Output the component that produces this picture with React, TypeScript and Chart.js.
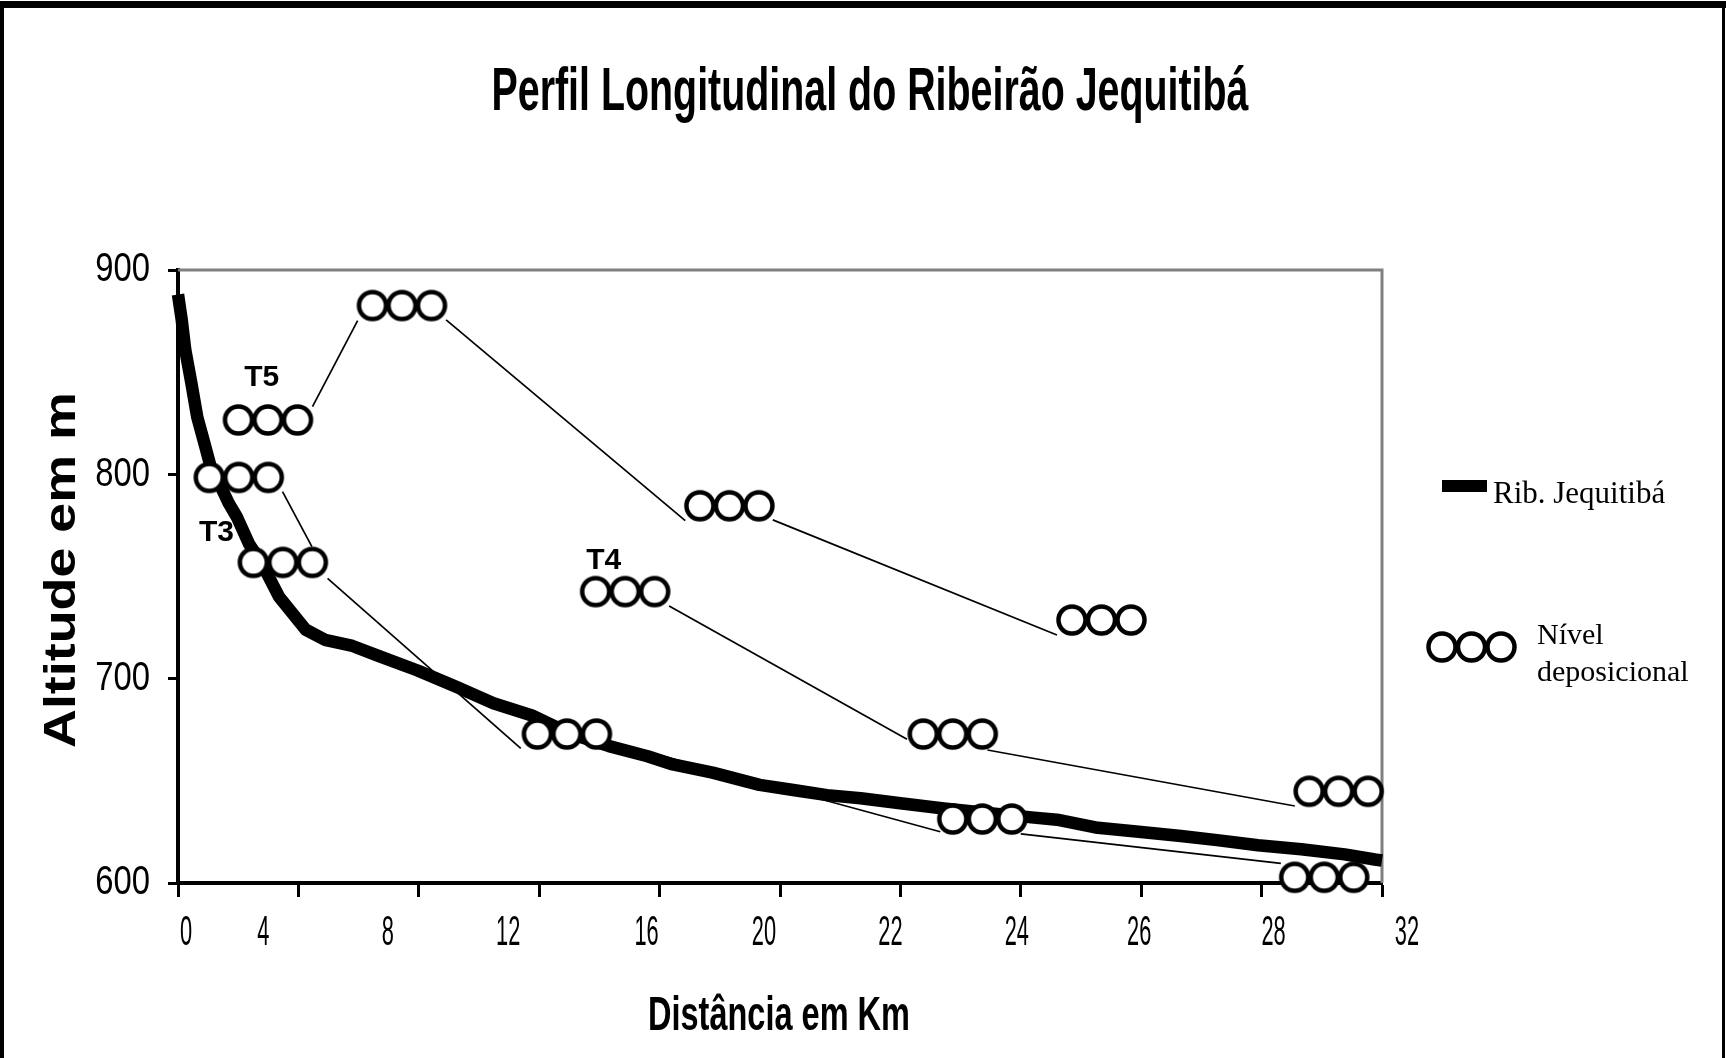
import React, { useEffect, useRef } from 'react';
import { Chart, registerables } from 'chart.js';

Chart.register(...registerables);

// ---------- data ----------
const TITLE = 'Perfil Longitudinal do Ribeirão Jequitibá';
const X_TITLE = 'Distância em Km';
const Y_TITLE = 'Altitude em m';

// x axis: 11 evenly spaced tick positions (index 0..10) carrying these labels
const X_TICK_LABELS = ['0', '4', '8', '12', '16', '20', '22', '24', '26', '28', '32'];
const Y_TICK_VALUES = [600, 700, 800, 900];

// river profile (x in axis-tick units, y altitude m)
const RIVER_X = [0.0, 0.03, 0.06, 0.11, 0.16, 0.22, 0.27, 0.34, 0.42, 0.49, 0.59, 0.7, 0.84, 1.06, 1.22, 1.45, 1.67, 1.99, 2.31, 2.62, 2.94, 3.26, 3.58, 3.9, 4.11, 4.44, 4.83, 5.11, 5.39, 5.67, 6.0, 6.36, 7.11, 7.3, 7.64, 8.0, 8.33, 8.63, 8.97, 9.33, 9.69, 9.94, 10.0];
const RIVER_Y = [888, 876, 861, 845, 828, 815, 804, 796, 786, 779, 766, 756, 740, 724, 719, 716, 711, 704, 696, 688, 682, 673, 667, 662, 658, 654, 648, 645.5, 643, 641.5, 639, 636.5, 632, 631, 627, 625, 623, 621, 618.5, 616.5, 614, 611.5, 611];

// depositional levels (centre of each three-circle group)
const LEVEL_X = [0.747, 1.86, 0.505, 0.871, 3.23, 3.714, 4.58, 7.67, 6.435, 6.68, 9.64, 9.52];
const LEVEL_Y = [826.6, 882.6, 798.5, 756.9, 672.9, 742.6, 784.6, 728.7, 672.9, 631.3, 644.9, 602.8];

// thin connecting lines between levels
const LINK_X1 = [1.117, 2.227, 4.94, 0.868, 1.242, 4.079, 6.723, 3.569, 7.0];
const LINK_Y1 = [833.1, 875.6, 777.7, 791.5, 749.1, 735.6, 665.1, 669.5, 624.0];
const LINK_X2 = [1.492, 4.213, 7.3, 1.112, 2.847, 6.055, 9.276, 6.331, 9.16];
const LINK_Y2 = [875.2, 777.3, 721.4, 764.6, 665.9, 670.3, 637.7, 625.1, 609.6];

// terrace labels
const TERRACE_NAMES = ['T5', 'T3', 'T4'];
const TERRACE_X = [0.695, 0.32, 3.536];
const TERRACE_Y = [847.4, 771.6, 757.6];

const LEGEND_RIVER = 'Rib. Jequitibá';
const LEGEND_LEVEL = ['Nível', 'deposicional'];

// ---------- styling ----------
const W = 1726;
const H = 1058;
const SANS = '"Liberation Sans", Arial, sans-serif';
const SERIF = '"Liberation Serif", "Times New Roman", serif';
const X_LABEL_NUDGE = [8, -35, -31, -31, -13, -16, -10, -4, -2, 12, 25];

function makeTriple(): HTMLCanvasElement {
  const r = 13.5, lw = 4.5, gap = 29.5;
  const c = document.createElement('canvas');
  const w = Math.ceil(2 * gap + 2 * r + lw + 4);
  const h = Math.ceil(2 * r + lw + 4);
  c.width = w;
  c.height = h;
  const ctx = c.getContext('2d') as CanvasRenderingContext2D;
  ctx.lineWidth = lw;
  ctx.strokeStyle = '#000';
  ctx.fillStyle = '#fff';
  for (let i = 0; i < 3; i++) {
    ctx.beginPath();
    ctx.arc(w / 2 + (i - 1) * gap, h / 2, r, 0, Math.PI * 2);
    ctx.fill();
    ctx.stroke();
  }
  return c;
}

function squeezeText(
  ctx: CanvasRenderingContext2D,
  text: string,
  x: number,
  y: number,
  font: string,
  sx: number,
  align: CanvasTextAlign,
  baseline: CanvasTextBaseline = 'alphabetic'
) {
  ctx.save();
  ctx.font = font;
  ctx.textAlign = align;
  ctx.textBaseline = baseline;
  ctx.translate(x, y);
  ctx.scale(sx, 1);
  ctx.fillText(text, 0, 0);
  ctx.restore();
}

function fitText(
  ctx: CanvasRenderingContext2D,
  text: string,
  x: number,
  y: number,
  font: string,
  width: number,
  align: CanvasTextAlign
) {
  ctx.save();
  ctx.font = font;
  const w = ctx.measureText(text).width;
  ctx.restore();
  squeezeText(ctx, text, x, y, font, width / w, align);
}

export default function App() {
  const ref = useRef<HTMLCanvasElement | null>(null);

  useEffect(() => {
    const canvas = ref.current;
    if (!canvas) return;
    const glyph = makeTriple();

    const decor = {
      id: 'decor',
      beforeDraw(chart: any) {
        const ctx = chart.ctx as CanvasRenderingContext2D;
        ctx.save();
        ctx.fillStyle = '#fff';
        ctx.fillRect(0, 0, W, H);
        ctx.fillStyle = '#000';
        ctx.fillRect(0, 1, W, 7);
        ctx.fillRect(0, 1, 4, H);
        ctx.fillRect(W - 4, 1, 3, H);
        ctx.restore();
      },
      beforeDatasetsDraw(chart: any) {
        const ctx = chart.ctx as CanvasRenderingContext2D;
        const a = chart.chartArea;
        ctx.save();
        ctx.strokeStyle = '#808080';
        ctx.lineWidth = 3;
        ctx.beginPath();
        ctx.moveTo(a.left, a.top);
        ctx.lineTo(a.right, a.top);
        ctx.lineTo(a.right, a.bottom);
        ctx.stroke();
        ctx.restore();
      },
      afterDraw(chart: any) {
        const ctx = chart.ctx as CanvasRenderingContext2D;
        const xs = chart.scales.x;
        const ys = chart.scales.y;
        ctx.save();
        ctx.fillStyle = '#000';

        // title
        fitText(ctx, TITLE, 870, 110, `bold 62px ${SANS}`, 757, 'center');

        // x tick labels
        X_TICK_LABELS.forEach((t, i) => {
          squeezeText(ctx, t, xs.getPixelForValue(i) + X_LABEL_NUDGE[i], 945, `42px ${SANS}`, 0.52, 'center');
        });
        // y tick labels
        Y_TICK_VALUES.forEach((v) => {
          squeezeText(ctx, String(v), 150, ys.getPixelForValue(v), `41px ${SANS}`, 0.8, 'right', 'middle');
        });

        // axis titles
        fitText(ctx, X_TITLE, 779, 1030, `bold 49px ${SANS}`, 262, 'center');
        ctx.save();
        ctx.translate(75, 570);
        ctx.rotate(-Math.PI / 2);
        fitText(ctx, Y_TITLE, 0, 0, `bold 44px ${SANS}`, 356, 'center');
        ctx.restore();

        // terrace labels
        TERRACE_NAMES.forEach((t, i) => {
          ctx.font = `bold 30px ${SANS}`;
          ctx.textAlign = 'center';
          ctx.textBaseline = 'middle';
          ctx.fillText(t, xs.getPixelForValue(TERRACE_X[i]), ys.getPixelForValue(TERRACE_Y[i]));
        });

        // legend
        ctx.fillRect(1442, 480, 45, 12);
        ctx.font = `31px ${SERIF}`;
        ctx.textAlign = 'left';
        ctx.textBaseline = 'alphabetic';
        ctx.fillText(LEGEND_RIVER, 1493, 503);
        ctx.drawImage(glyph, Math.round(1471.7 - glyph.width / 2), Math.round(647 - glyph.height / 2));
        ctx.font = `30px ${SERIF}`;
        ctx.fillText(LEGEND_LEVEL[0], 1537, 644);
        ctx.fillText(LEGEND_LEVEL[1], 1537, 681);
        ctx.restore();
      },
    };

    const links = LINK_X1.map((x1, i) => ({
      type: 'line' as const,
      label: 'link' + i,
      data: [
        { x: x1, y: LINK_Y1[i] },
        { x: LINK_X2[i], y: LINK_Y2[i] },
      ],
      borderColor: '#000',
      borderWidth: 1.7,
      pointRadius: 0,
      showLine: true,
      clip: false as any,
    }));

    const chart = new Chart(canvas, {
      type: 'scatter',
      data: {
        datasets: [
          {
            label: 'Nível deposicional',
            data: LEVEL_X.map((x, i) => ({ x, y: LEVEL_Y[i] })),
            pointStyle: glyph as any,
            pointRadius: 10,
            showLine: false,
            clip: false as any,
          },
          {
            type: 'line',
            label: LEGEND_RIVER,
            data: RIVER_X.map((x, i) => ({ x, y: RIVER_Y[i] })),
            borderColor: '#000',
            borderWidth: 12.5,
            pointRadius: 0,
            showLine: true,
            tension: 0,
            borderJoinStyle: 'round',
            clip: false as any,
          } as any,
          ...(links as any[]),
        ],
      },
      options: {
        responsive: false,
        animation: false,
        devicePixelRatio: 1,
        events: [],
        layout: { padding: { left: 78, top: 270, right: 344, bottom: 75 } },
        plugins: {
          legend: { display: false },
          tooltip: { enabled: false },
          title: { display: false },
        },
        scales: {
          x: {
            type: 'linear',
            min: 0,
            max: 10,
            ticks: { display: false, stepSize: 1 },
            grid: {
              display: true,
              drawOnChartArea: false,
              drawTicks: true,
              tickLength: 14,
              tickWidth: 3,
              tickColor: '#000',
            },
            border: { display: true, color: '#000', width: 4 },
            afterFit(s: any) {
              s.height = 100;
            },
          },
          y: {
            type: 'linear',
            min: 600,
            max: 900,
            ticks: { display: false, stepSize: 100 },
            grid: {
              display: true,
              drawOnChartArea: false,
              drawTicks: true,
              tickLength: 10,
              tickWidth: 3,
              tickColor: '#000',
            },
            border: { display: true, color: '#000', width: 4 },
            afterFit(s: any) {
              s.width = 100;
            },
          },
        },
      },
      plugins: [decor],
    } as any);

    return () => chart.destroy();
  }, []);

  return (
    <div style={{ position: 'fixed', left: 0, top: 0, width: W, height: H, background: '#fff' }}>
      <canvas ref={ref} width={W} height={H} style={{ display: 'block', width: W, height: H }} />
    </div>
  );
}
